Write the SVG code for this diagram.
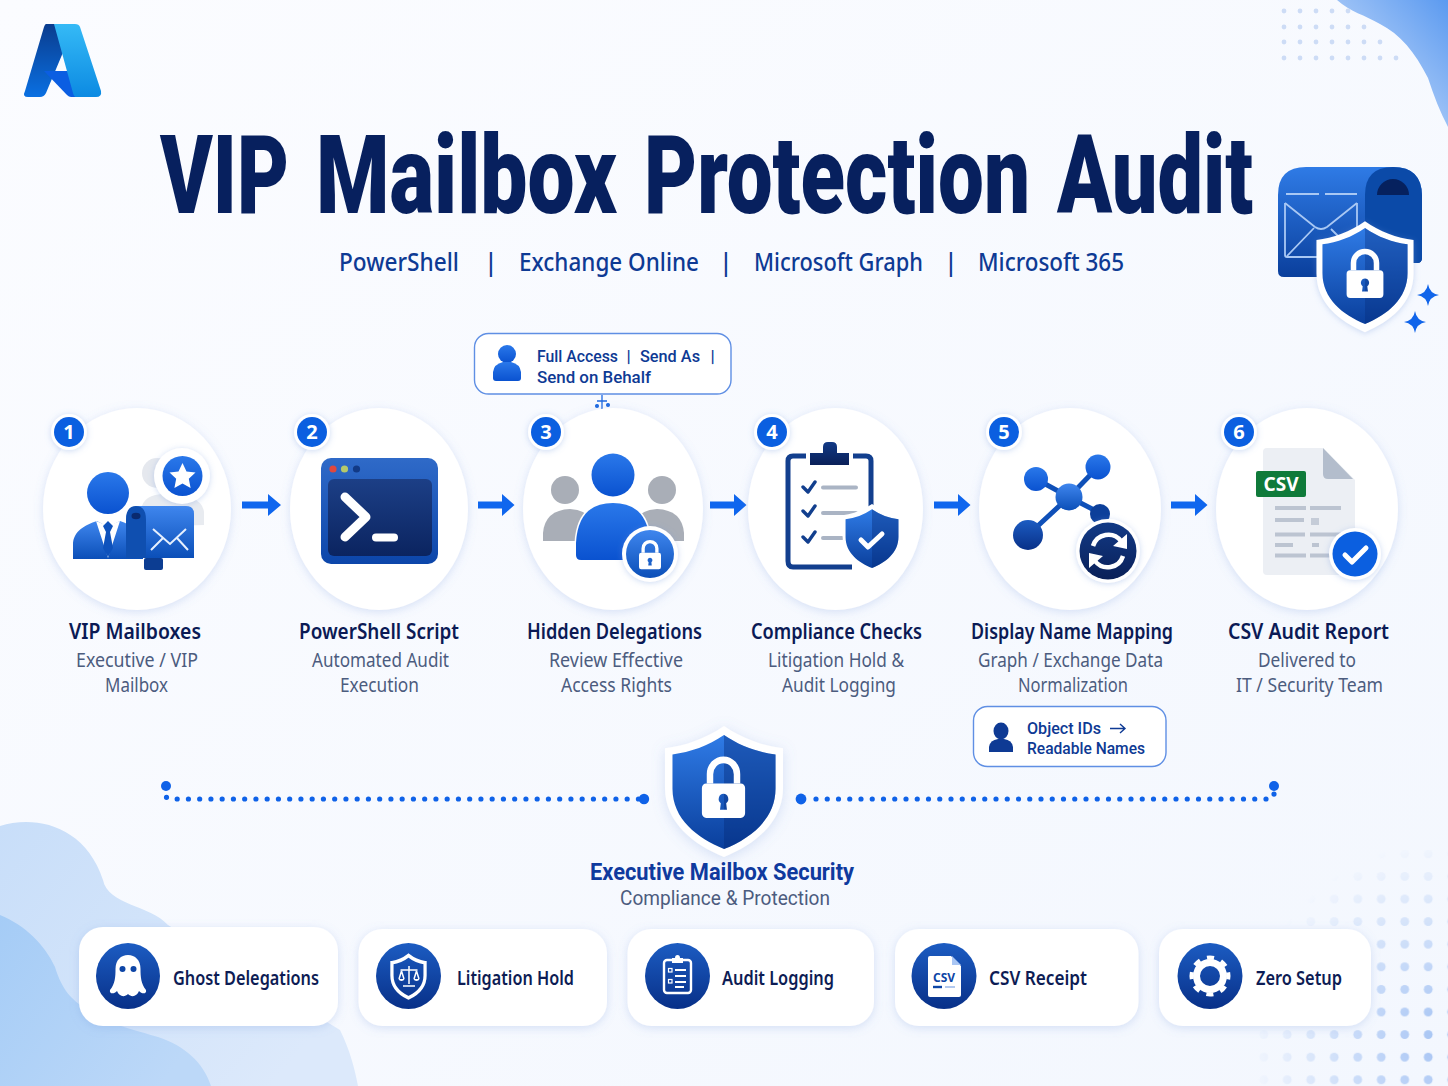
<svg xmlns="http://www.w3.org/2000/svg" width="1448" height="1086" viewBox="0 0 1448 1086">
<defs>
<linearGradient id="bg" x1="0" y1="0" x2="1" y2="1"><stop offset="0" stop-color="#fbfcff"/><stop offset="1" stop-color="#f3f7fe"/></linearGradient>
<linearGradient id="blobTR" x1="0" y1="1" x2="1" y2="0"><stop offset="0" stop-color="#dbe8fc"/><stop offset="1" stop-color="#5b9af0"/></linearGradient>
<linearGradient id="blobL" x1="0" y1="0" x2="1" y2="0.6"><stop offset="0" stop-color="#c8def9"/><stop offset="1" stop-color="#dce9fb"/></linearGradient>
<linearGradient id="blobD" x1="0" y1="0" x2="1" y2="0.6"><stop offset="0" stop-color="#a5ccf6"/><stop offset="1" stop-color="#bcd8f8"/></linearGradient>
<linearGradient id="blue" x1="0" y1="0" x2="0" y2="1"><stop offset="0" stop-color="#3f86ee"/><stop offset="1" stop-color="#0b4fb8"/></linearGradient>
<linearGradient id="blue2" x1="0" y1="0" x2="0" y2="1"><stop offset="0" stop-color="#2a78ea"/><stop offset="1" stop-color="#0a52d0"/></linearGradient>
<linearGradient id="deep" x1="0" y1="0" x2="0" y2="1"><stop offset="0" stop-color="#1c5cc2"/><stop offset="1" stop-color="#083088"/></linearGradient>
<linearGradient id="term" x1="0" y1="0" x2="0" y2="1"><stop offset="0" stop-color="#2f6ac8"/><stop offset="1" stop-color="#0c46aa"/></linearGradient>
<linearGradient id="termIn" x1="0" y1="0" x2="0" y2="1"><stop offset="0" stop-color="#1c3f86"/><stop offset="1" stop-color="#0b2460"/></linearGradient>
<linearGradient id="mail" x1="0" y1="0" x2="0" y2="1"><stop offset="0" stop-color="#2f7be6"/><stop offset="1" stop-color="#0a3f9c"/></linearGradient>
<linearGradient id="navy" x1="0" y1="0" x2="0" y2="1"><stop offset="0" stop-color="#123a86"/><stop offset="1" stop-color="#0a2058"/></linearGradient>
<linearGradient id="logoL" x1="0" y1="0" x2="0" y2="1"><stop offset="0" stop-color="#0a3c8e"/><stop offset="1" stop-color="#0a70e2"/></linearGradient>
<linearGradient id="logoR" x1="0" y1="0" x2="0" y2="1"><stop offset="0" stop-color="#35baf6"/><stop offset="1" stop-color="#0c8ae2"/></linearGradient>
<radialGradient id="fadeBR" gradientUnits="userSpaceOnUse" cx="1448" cy="1040" r="200"><stop offset="0" stop-color="#fff"/><stop offset="1" stop-color="#fff" stop-opacity="0"/></radialGradient>
<mask id="maskBR"><rect x="1240" y="850" width="208" height="236" fill="url(#fadeBR)"/></mask>
<pattern id="dotsBR" patternUnits="userSpaceOnUse" x="1299" y="887.700" width="23.500" height="22.600"><circle cx="11.700" cy="11.300" r="4.400" fill="#a3c2f3"/></pattern>
<filter id="sh" x="-20%" y="-20%" width="140%" height="140%"><feDropShadow dx="0" dy="2" stdDeviation="5" flood-color="#6f95dc" flood-opacity=".26"/></filter>
<filter id="sh2" x="-30%" y="-30%" width="160%" height="160%"><feDropShadow dx="0" dy="1" stdDeviation="3" flood-color="#6f95dc" flood-opacity=".35"/></filter>
<path id="shield" d="M0 -50 C14 -40 30 -34 46 -32 V0 C46 28 24 46 0 56 C-24 46 -46 28 -46 0 V-32 C-30 -34 -14 -40 0 -50 Z"/>
<path id="shieldR" d="M0 -50 C14 -40 30 -34 46 -32 V0 C46 28 24 46 0 56 Z"/>
<g id="lock"><path fill="#fff" fill-rule="evenodd" d="M-16 -4 H16 a4 4 0 0 1 4 4 V22 a4 4 0 0 1 -4 4 H-16 a4 4 0 0 1 -4 -4 V0 a4 4 0 0 1 4 -4Z M0 5 a4.500 4.500 0 0 0 -2.500 8.200 L-3.200 19 H3.200 L2.500 13.200 A4.500 4.500 0 0 0 0 5Z"/><path fill="none" stroke="#fff" stroke-width="6" d="M-12.500 -4 V-12 A12.500 12.500 0 0 1 12.500 -12 V-4"/></g>
<path id="spark" d="M0 -11 Q1.500 -1.500 11 0 Q1.500 1.500 0 11 Q-1.500 1.500 -11 0 Q-1.500 -1.500 0 -11Z" fill="#1165ea"/>
<path id="arrow" d="M0 -3.500 H26 V-11 L39 0 L26 11 V3.500 H0 Z" fill="#0f66ee"/>
<path id="arrow2" d="M0 -3.500 H24 V-11 L36.500 0 L24 11 V3.500 H0 Z" fill="#0f66ee"/>
</defs>
<style>
text{font-family:"Noto Sans","Liberation Sans",sans-serif}
.title{font-family:Roboto,"Liberation Sans",sans-serif;font-weight:900;font-size:110px;fill:#07205e}
.sub{font-size:25px;font-weight:500;fill:#0e3a94}
.h{font-size:21px;font-weight:600;fill:#0b1a55}
.d{font-size:19.500px;fill:#4c5c7e}
.c{font-family:Roboto,"Liberation Sans",sans-serif;font-size:17px;font-weight:500;fill:#0e3a94}
.e{font-family:Roboto,"Liberation Sans",sans-serif;font-size:23.500px;font-weight:700;fill:#0f3a9e}
.e2{font-family:Roboto,"Liberation Sans",sans-serif;font-size:19.500px;fill:#4c5c7e}
.l{font-size:20px;font-weight:600;fill:#0d1c54}
.n{font-size:20px;font-weight:700;fill:#fff;text-anchor:middle}
.circle{fill:#fff;filter:url(#sh)}
.ring{fill:#fff;filter:url(#sh2)}
.badge{fill:#0b5fe0}
.card{fill:#fff;filter:url(#sh)}
.call{fill:#fff;stroke:#5f8fe4;stroke-width:1.400}
.ic{fill:url(#deep)}
.w{fill:none;stroke:#fff;stroke-linecap:round;stroke-linejoin:round}
</style>

<rect width="1448" height="1086" fill="url(#bg)"/>
<g id="background">
<path d="M1337 0 C1350 12 1365 15 1380 24 C1400 34 1415 52 1428 78 C1434 96 1440 112 1448 127 V0 Z" fill="url(#blobTR)"/>
<path d="M0 826 C35 815 85 825 103 880 C108 905 150 905 168 925 L340 1030 C350 1050 355 1070 358 1086 H0 Z" fill="url(#blobL)"/>
<path d="M0 915 C25 925 45 945 55 967 C62 990 72 1000 85 1008 C110 1025 135 1030 158 1037 C185 1046 203 1062 211 1086 H0 Z" fill="url(#blobD)"/>
<g fill="#c3d5f4" opacity=".8">
<circle cx="1284" cy="11" r="2.400"/><circle cx="1300" cy="11" r="2.400"/><circle cx="1316" cy="11" r="2.400"/><circle cx="1332" cy="11" r="2.400"/><circle cx="1348" cy="11" r="2.400"/>
<circle cx="1284" cy="27" r="2.400"/><circle cx="1300" cy="27" r="2.400"/><circle cx="1316" cy="27" r="2.400"/><circle cx="1332" cy="27" r="2.400"/><circle cx="1348" cy="27" r="2.400"/><circle cx="1364" cy="27" r="2.400"/>
<circle cx="1284" cy="42" r="2.400"/><circle cx="1300" cy="42" r="2.400"/><circle cx="1316" cy="42" r="2.400"/><circle cx="1332" cy="42" r="2.400"/><circle cx="1348" cy="42" r="2.400"/><circle cx="1364" cy="42" r="2.400"/><circle cx="1380" cy="42" r="2.400"/>
<circle cx="1284" cy="58" r="2.400"/><circle cx="1300" cy="58" r="2.400"/><circle cx="1316" cy="58" r="2.400"/><circle cx="1332" cy="58" r="2.400"/><circle cx="1348" cy="58" r="2.400"/><circle cx="1364" cy="58" r="2.400"/><circle cx="1380" cy="58" r="2.400"/><circle cx="1396" cy="58" r="2.400"/>
</g>
<rect x="1240" y="850" width="208" height="236" fill="url(#dotsBR)" mask="url(#maskBR)"/>
</g>

<g id="logo">
<path d="M46 24 H55 L64 50 L46 93 Q44 97 40 97 H28 Q22 97 25 91 L44 27 Q45 24 46 24Z" fill="url(#logoL)"/>
<path d="M44 71 H70 L76 97 H71 Q69 97 67 95 Z" fill="#0b5ee2"/>
<path d="M54 24 H75 Q79 24 80 27 L101 91 Q102 97 96 97 H76 Q74 97 73 93 Z" fill="url(#logoR)"/>
</g>

<g id="header">
<text class="title" y="213" transform="scale(.66 1)"><tspan x="242.400" textLength="195.500" lengthAdjust="spacingAndGlyphs">VIP</tspan> <tspan x="478.800" textLength="456.100" lengthAdjust="spacingAndGlyphs">Mailbox</tspan> <tspan x="975.800" textLength="584.800" lengthAdjust="spacingAndGlyphs">Protection</tspan> <tspan x="1601.500" textLength="297" lengthAdjust="spacingAndGlyphs">Audit</tspan></text>
<text class="sub" transform="translate(339 271) scale(.87 1)" textLength="137.900" lengthAdjust="spacingAndGlyphs">PowerShell</text>
<text class="sub" x="484" y="271">|</text>
<text class="sub" transform="translate(519 271) scale(.87 1)" textLength="206.900" lengthAdjust="spacingAndGlyphs">Exchange Online</text>
<text class="sub" x="719" y="271">|</text>
<text class="sub" transform="translate(754 271) scale(.87 1)" textLength="194.300" lengthAdjust="spacingAndGlyphs">Microsoft Graph</text>
<text class="sub" x="944" y="271">|</text>
<text class="sub" transform="translate(978 271) scale(.87 1)" textLength="167.800" lengthAdjust="spacingAndGlyphs">Microsoft 365</text>
</g>

<g id="hero-mailbox">
<path d="M1278 277 Q1278 277 1278 195 Q1278 167 1306 167 H1393 Q1422 167 1422 196 V258 Q1422 263 1417 263 H1370 V277 H1284 Q1278 277 1278 271Z" fill="url(#mail)"/>
<path d="M1365 263 V195 Q1365 167 1393 167 Q1422 167 1422 196 V258 Q1422 263 1417 263Z" fill="#0b4aa8"/>
<path d="M1377 195 A16 16 0 0 1 1409 195Z" fill="#06215e"/>
<g fill="none" stroke="#a9c8f4" stroke-width="1.800"><path d="M1286 194 H1319 M1325 194 H1357"/><path d="M1285 203 V255 Q1285 257 1287 257 H1320 M1357 203 V235"/><path d="M1285 203 L1315 227 Q1321 231 1327 227 L1357 203"/><path d="M1287 256 L1314 228 M1331 229 L1340 238"/></g>
<use href="#shield" transform="translate(1365 273.500) scale(1.055 1.047)" fill="#fff" filter="url(#sh2)"/>
<use href="#shield" transform="translate(1365 273.300) scale(.925 .906)" fill="url(#mail)"/>
<use href="#shieldR" transform="translate(1365 273.300) scale(.925 .906)" fill="#062a78" opacity=".35"/>
<use href="#lock" transform="translate(1365 274) scale(.92)"/>
<use href="#spark" transform="translate(1428 295)"/>
<use href="#spark" transform="translate(1415 322)"/>
</g>

<g id="connectors">
<use href="#arrow" x="242" y="505"/>
<use href="#arrow2" x="478" y="505"/>
<use href="#arrow2" x="710" y="505"/>
<use href="#arrow2" x="934" y="505"/>
<use href="#arrow2" x="1171" y="505"/>
<path d="M166 786 V795 Q166 799 170 799 H640" fill="none" stroke="#0f62e8" stroke-width="5.200" stroke-linecap="round" stroke-dasharray="0 11.250"/>
<path d="M816 799 H1270 Q1274 799 1274 795 V786" fill="none" stroke="#0f62e8" stroke-width="5.200" stroke-linecap="round" stroke-dasharray="0 11.250"/>
<circle cx="166" cy="786" r="5" fill="#0f62e8"/><circle cx="644" cy="799" r="5.200" fill="#0f62e8"/>
<circle cx="801" cy="799" r="5.400" fill="#0f62e8"/><circle cx="1274" cy="786" r="5" fill="#0f62e8"/>
<g stroke="#1f6ae0" stroke-width="1.300" fill="#1f6ae0"><path d="M602 395 V411 M597 401 H607"/><circle cx="597" cy="406" r="1.400"/><circle cx="608" cy="405" r="1.400"/></g>
</g>

<g id="node-1">
<ellipse class="circle" cx="137" cy="509" rx="94" ry="101"/>
<circle cx="157" cy="473" r="15" fill="#e5e8ee"/><path d="M141 527 V510 Q143 494 165 494 Q202 494 204 512 V525Z" fill="#e8ebf0"/>
<circle cx="108" cy="493" r="21" fill="url(#blue2)"/>
<path d="M73 559 V545 C73 531 85 525 97 521 L108 527 L120 521 C131 525 143 531 143 545 V559 Z" fill="url(#blue)"/>
<path d="M96 521 L108 558 L120 521 L108 526Z" fill="#fff"/>
<path d="M108 521 L103 526 L106 532 L103 548 L108 557 L113 548 L110 532 L113 526Z" fill="#0e52bc"/>
<path d="M126 558 V520 Q126 506 140 506 H186 Q194 506 194 514 V558Z" fill="url(#blue)"/>
<path d="M126 558 V520 Q126 506 136 506 Q146 506 146 520 V558Z" fill="#0f4fb0"/>
<ellipse cx="136" cy="516" rx="4.500" ry="3.200" fill="#0a2a6e"/>
<rect x="144" y="558" width="19" height="12" rx="2" fill="#0c3d92"/>
<path d="M153 529 L170 544 L186 529 M151 550 L163 538 M188 550 L177 538" fill="none" stroke="#e6f0fe" stroke-width="2"/>
<circle class="ring" cx="182" cy="476" r="28"/><circle cx="182.500" cy="476" r="20" fill="url(#blue2)"/>
<path d="M182.500 463 L186.500 471.500 L195.500 472.600 L188.800 478.800 L190.600 488 L182.500 483.400 L174.400 488 L176.200 478.800 L169.500 472.600 L178.500 471.500Z" fill="#fff"/>
<circle class="ring" cx="69" cy="432" r="18"/><circle class="badge" cx="69" cy="432" r="15"/><text class="n" x="69" y="439">1</text>
<text class="h" x="69" y="639" textLength="132" lengthAdjust="spacingAndGlyphs">VIP Mailboxes</text>
<text class="d" x="76" y="667" textLength="122" lengthAdjust="spacingAndGlyphs">Executive / VIP</text>
<text class="d" x="105" y="692" textLength="63" lengthAdjust="spacingAndGlyphs">Mailbox</text>
</g>

<g id="node-2">
<ellipse class="circle" cx="379" cy="509" rx="89" ry="101"/>
<rect x="321" y="458" width="117" height="106" rx="10" fill="url(#term)"/>
<rect x="328" y="479" width="104" height="77" rx="6" fill="url(#termIn)"/>
<circle cx="333" cy="469" r="3.600" fill="#e0483e"/><circle cx="344.500" cy="469" r="3.600" fill="#b5c96a"/><circle cx="356.500" cy="469" r="3.600" fill="#123a86"/>
<path class="w" stroke-width="9" d="M345 497 L366 517 L345 537"/>
<path class="w" stroke-width="8" d="M376 537.500 H394"/>
<circle class="ring" cx="312" cy="432" r="18"/><circle class="badge" cx="312" cy="432" r="15"/><text class="n" x="312" y="439">2</text>
<text class="h" x="299" y="639" textLength="160" lengthAdjust="spacingAndGlyphs">PowerShell Script</text>
<text class="d" x="312" y="667" textLength="137" lengthAdjust="spacingAndGlyphs">Automated Audit</text>
<text class="d" x="340" y="692" textLength="79" lengthAdjust="spacingAndGlyphs">Execution</text>
</g>

<g id="node-3">
<ellipse class="circle" cx="613" cy="509" rx="90" ry="101"/>
<circle cx="565" cy="490" r="14" fill="#a9aeb7"/><circle cx="662" cy="490" r="14" fill="#a9aeb7"/>
<path d="M543 541 V533 Q545 510 570 509 Q586 510 592 520 L585 541Z" fill="#a9aeb7"/>
<path d="M684 541 V533 Q682 510 657 509 Q641 510 635 520 L642 541Z" fill="#a9aeb7"/>
<circle cx="613" cy="475" r="21.500" fill="url(#blue2)"/>
<path d="M576 555 V543 Q578 503 613 503 Q648 503 650 543 V560 H581 Q576 560 576 555Z" fill="url(#blue2)" stroke="#fff" stroke-width="3" paint-order="stroke"/>
<circle class="ring" cx="650" cy="554" r="28"/><circle cx="650" cy="554" r="24" fill="url(#blue)"/>
<use href="#lock" transform="translate(650 555) scale(.55)"/>
<circle class="ring" cx="546" cy="432" r="18"/><circle class="badge" cx="546" cy="432" r="15"/><text class="n" x="546" y="439">3</text>
<text class="h" x="527" y="639" textLength="175" lengthAdjust="spacingAndGlyphs">Hidden Delegations</text>
<text class="d" x="549" y="667" textLength="134" lengthAdjust="spacingAndGlyphs">Review Effective</text>
<text class="d" x="561" y="692" textLength="111" lengthAdjust="spacingAndGlyphs">Access Rights</text>
</g>

<g id="callout-permissions">
<rect class="call" x="474.500" y="333.500" width="256.500" height="60.500" rx="14"/>
<circle cx="507" cy="354" r="9" fill="url(#blue2)"/><path d="M493 378 V372 Q494 364 503 362 H511 Q520 364 521 372 V378 Q521 381 518 381 H496 Q493 381 493 378Z" fill="url(#blue2)"/>
<text class="c" x="537" y="362" textLength="81" lengthAdjust="spacingAndGlyphs">Full Access</text>
<text class="c" x="626.500" y="362">|</text>
<text class="c" x="640" y="362" textLength="60" lengthAdjust="spacingAndGlyphs">Send As</text>
<text class="c" x="710.500" y="362">|</text>
<text class="c" x="537" y="383" textLength="114" lengthAdjust="spacingAndGlyphs">Send on Behalf</text>
</g>

<g id="node-4">
<ellipse class="circle" cx="835.500" cy="509" rx="87.500" ry="101"/>
<path d="M806 456 H793 Q788 456 788 461 V561 Q788 567 793 567 H852 M853 456 H866 Q871 456 871 461 V510" fill="#fff" stroke="#123f8e" stroke-width="5"/>
<path d="M810 453 H823 V447 Q823 442 828 442 H832 Q837 442 837 447 V453 H849 V465 H810Z" fill="url(#navy)"/>
<g fill="none" stroke-linecap="round" stroke-linejoin="round"><path d="M803 487 L808 492 L815 482 M803 511 L808 516 L815 506 M803 537 L808 542 L815 532" stroke="#123f8e" stroke-width="3.400"/><path d="M823 487.500 H856 M823 513 H856 M823 538 H842" stroke="#aab4c4" stroke-width="4"/></g>
<use href="#shield" transform="translate(872 535) scale(.64 .62)" fill="#fff"/>
<use href="#shield" transform="translate(872 537) scale(.575 .555)" fill="url(#mail)"/>
<use href="#shieldR" transform="translate(872 537) scale(.575 .555)" fill="#062a78" opacity=".4"/>
<path class="w" stroke-width="5" d="M861 540 L868 547 L882 534"/>
<circle class="ring" cx="772" cy="432" r="18"/><circle class="badge" cx="772" cy="432" r="15"/><text class="n" x="772" y="439">4</text>
<text class="h" x="751" y="639" textLength="171" lengthAdjust="spacingAndGlyphs">Compliance Checks</text>
<text class="d" x="768" y="667" textLength="136" lengthAdjust="spacingAndGlyphs">Litigation Hold &amp;</text>
<text class="d" x="782" y="692" textLength="114" lengthAdjust="spacingAndGlyphs">Audit Logging</text>
</g>

<g id="node-5">
<ellipse class="circle" cx="1070" cy="509" rx="91" ry="101"/>
<path d="M1036 479 L1069 497 L1098 467 M1028 535 L1069 497 L1100 513" fill="none" stroke="#0f50b8" stroke-width="5"/>
<circle cx="1036" cy="479" r="12" fill="url(#blue2)"/><circle cx="1098" cy="467" r="12.500" fill="url(#blue2)"/>
<circle cx="1069" cy="497" r="13.500" fill="url(#blue)"/><circle cx="1028" cy="535" r="15" fill="url(#deep)"/><circle cx="1100" cy="514" r="10" fill="#0c3f9a"/>
<circle class="ring" cx="1108" cy="551" r="32"/><circle cx="1108" cy="551" r="28.500" fill="url(#navy)"/>
<g class="w" stroke-width="4.500" style="stroke-linecap:butt"><path d="M1093 546 A16 16 0 0 1 1121 541"/><path d="M1123 556 A16 16 0 0 1 1095 561"/></g>
<path d="M1127 534 L1127 549 L1113 546Z M1089 568 L1089 553 L1103 556Z" fill="#fff"/>
<circle class="ring" cx="1004" cy="432" r="18"/><circle class="badge" cx="1004" cy="432" r="15"/><text class="n" x="1004" y="439">5</text>
<text class="h" x="971" y="639" textLength="202" lengthAdjust="spacingAndGlyphs">Display Name Mapping</text>
<text class="d" x="978" y="667" textLength="185" lengthAdjust="spacingAndGlyphs">Graph / Exchange Data</text>
<text class="d" x="1018" y="692" textLength="110" lengthAdjust="spacingAndGlyphs">Normalization</text>
</g>

<g id="callout-mapping">
<rect class="call" x="973.500" y="706.500" width="192.500" height="60" rx="14"/>
<ellipse cx="1001" cy="731" rx="7.500" ry="8.500" fill="#0e3a94"/><path d="M989 752 V747 Q990 740 998 739 H1004 Q1012 740 1013 747 V752Z" fill="#0e3a94"/>
<text class="c" x="1027" y="734" textLength="74" lengthAdjust="spacingAndGlyphs">Object IDs</text>
<path d="M1110 728.500 H1125 M1120 724 L1125 728.500 L1120 733" fill="none" stroke="#0e3a94" stroke-width="1.400"/>
<text class="c" x="1027" y="754" textLength="118" lengthAdjust="spacingAndGlyphs">Readable Names</text>
</g>

<g id="node-6">
<ellipse class="circle" cx="1307" cy="509" rx="91" ry="101"/>
<path d="M1267 448 H1323 L1355 480 V570 Q1355 575 1350 575 H1267 Q1263 575 1263 571 V452 Q1263 448 1267 448Z" fill="#eceff4"/>
<path d="M1323 448 L1353 479 H1328 Q1323 479 1323 474Z" fill="#b3bdcc"/>
<rect x="1256" y="471" width="50" height="26" rx="2" fill="#0f7a3a"/>
<text x="1281" y="491" text-anchor="middle" font-size="19" font-weight="700" fill="#fff">CSV</text>
<path d="M1275 508 H1306 M1310 508 H1341 M1275 520 H1304 M1275 534.500 H1305 M1310 534.500 H1341 M1275 545 H1293 M1312 545 H1319 M1275 555.500 H1306 M1310 555.500 H1330" stroke="#bcc4d1" stroke-width="4"/>
<rect x="1311" y="518" width="8" height="7" fill="#c5ccd8"/>
<circle class="ring" cx="1355" cy="554" r="26"/><circle cx="1355" cy="554" r="22.500" fill="#0b5fe0"/>
<path class="w" stroke-width="5" d="M1345 555 L1352 562 L1366 548"/>
<circle class="ring" cx="1239" cy="432" r="18"/><circle class="badge" cx="1239" cy="432" r="15"/><text class="n" x="1239" y="439">6</text>
<text class="h" x="1228" y="639" textLength="161" lengthAdjust="spacingAndGlyphs">CSV Audit Report</text>
<text class="d" x="1258" y="667" textLength="98" lengthAdjust="spacingAndGlyphs">Delivered to</text>
<text class="d" x="1236" y="692" textLength="147" lengthAdjust="spacingAndGlyphs">IT / Security Team</text>
</g>

<g id="security-shield">
<use href="#shield" transform="translate(724 787.800) scale(1.283 1.236)" fill="#fff" filter="url(#sh)"/>
<use href="#shield" transform="translate(724 788.800) scale(1.120 1.075)" fill="url(#mail)"/>
<use href="#shieldR" transform="translate(724 788.800) scale(1.120 1.075)" fill="#062a78" opacity=".4"/>
<use href="#lock" transform="translate(723.500 788) scale(1.080 1.150)"/>
<text class="e" x="590" y="880" textLength="264" lengthAdjust="spacingAndGlyphs">Executive Mailbox Security</text>
<text class="e2" x="620" y="905" textLength="210" lengthAdjust="spacingAndGlyphs">Compliance &amp; Protection</text>
</g>

<g id="card-ghost">
<rect class="card" x="79" y="927" width="259" height="99" rx="24"/>
<ellipse class="ic" cx="128" cy="976" rx="32" ry="33"/>
<path d="M110 990 C115 984 115.500 977 115.500 969 C115.500 960 121 955 128 955 C135 955 140.500 960 140.500 969 C140.500 977 141 984 146 990 C147 994 142 994.500 139 991 C137 996 132 998 128 994 C124 998 119 996 117 991 C114 994.500 109 994 110 990Z" fill="#fff"/>
<circle cx="122.500" cy="969" r="3" fill="#0d45a6"/><circle cx="133.500" cy="969" r="3" fill="#0d45a6"/>
<text class="l" x="173" y="985" textLength="146" lengthAdjust="spacingAndGlyphs">Ghost Delegations</text>
</g>

<g id="card-litigation">
<rect class="card" x="358.500" y="929" width="248.500" height="97" rx="24"/>
<ellipse class="ic" cx="408.500" cy="976" rx="32.500" ry="33"/>
<use href="#shield" transform="translate(408.500 975.500) scale(.36 .40)" fill="none" stroke="#fff" stroke-width="9"/>
<path d="M409 966 V984 M403 986 H415 M400.500 970 H417.500 M401.500 971 L399 979 M401.500 971 L404 979 M416.500 971 L414 979 M416.500 971 L419 979" stroke="#fff" stroke-width="1.500" fill="none"/>
<path d="M398.500 979 A3.200 3 0 0 0 404.500 979Z M413.500 979 A3.200 3 0 0 0 419.500 979Z" fill="#fff"/>
<text class="l" x="457" y="985" textLength="117" lengthAdjust="spacingAndGlyphs">Litigation Hold</text>
</g>

<g id="card-logging">
<rect class="card" x="627.500" y="929" width="246.500" height="97" rx="24"/>
<ellipse class="ic" cx="677.500" cy="976" rx="32.500" ry="33"/>
<rect x="664" y="960" width="27" height="33" rx="3" fill="none" stroke="#fff" stroke-width="2.400"/>
<path d="M672 963 V958 H675 Q675 955 677.500 955 Q680 955 680 958 H683 V963Z" fill="#fff"/>
<path d="M675 970 H686 M675 976 H686 M675 982 H686 M675 987 H684" stroke="#fff" stroke-width="2"/>
<rect x="668.500" y="968.500" width="3.500" height="3.500" fill="none" stroke="#fff" stroke-width="1.200"/><rect x="668.500" y="979.500" width="3.500" height="3.500" fill="none" stroke="#fff" stroke-width="1.200"/>
<text class="l" x="722" y="985" textLength="112" lengthAdjust="spacingAndGlyphs">Audit Logging</text>
</g>

<g id="card-csv">
<rect class="card" x="895" y="929" width="243.500" height="97" rx="24"/>
<ellipse class="ic" cx="944" cy="976" rx="32.500" ry="33"/>
<path d="M930 956 H951 L961 966 V995 Q961 997 959 997 H930 Q928 997 928 995 V958 Q928 956 930 956Z" fill="#fff"/>
<path d="M952 956 L961 965 H952Z" fill="#a9c6f4"/>
<text x="944" y="982" text-anchor="middle" font-size="12" font-weight="700" fill="#0d45a6">CSV</text>
<path d="M933 987 H942" stroke="#0d45a6" stroke-width="2.400"/><path d="M945 987 H955" stroke="#7fa4e4" stroke-width="1.200"/>
<text class="l" x="989" y="985" textLength="98" lengthAdjust="spacingAndGlyphs">CSV Receipt</text>
</g>

<g id="card-zero">
<rect class="card" x="1159" y="929" width="212" height="97" rx="24"/>
<ellipse class="ic" cx="1210" cy="976" rx="32.500" ry="33"/>
<circle cx="1210" cy="976" r="13.500" fill="none" stroke="#fff" stroke-width="7"/>
<circle cx="1210" cy="976" r="18.500" fill="none" stroke="#fff" stroke-width="4" stroke-dasharray="7 7.530" transform="rotate(-11 1210 976)"/>
<text class="l" x="1256" y="985" textLength="86" lengthAdjust="spacingAndGlyphs">Zero Setup</text>
</g>
</svg>
